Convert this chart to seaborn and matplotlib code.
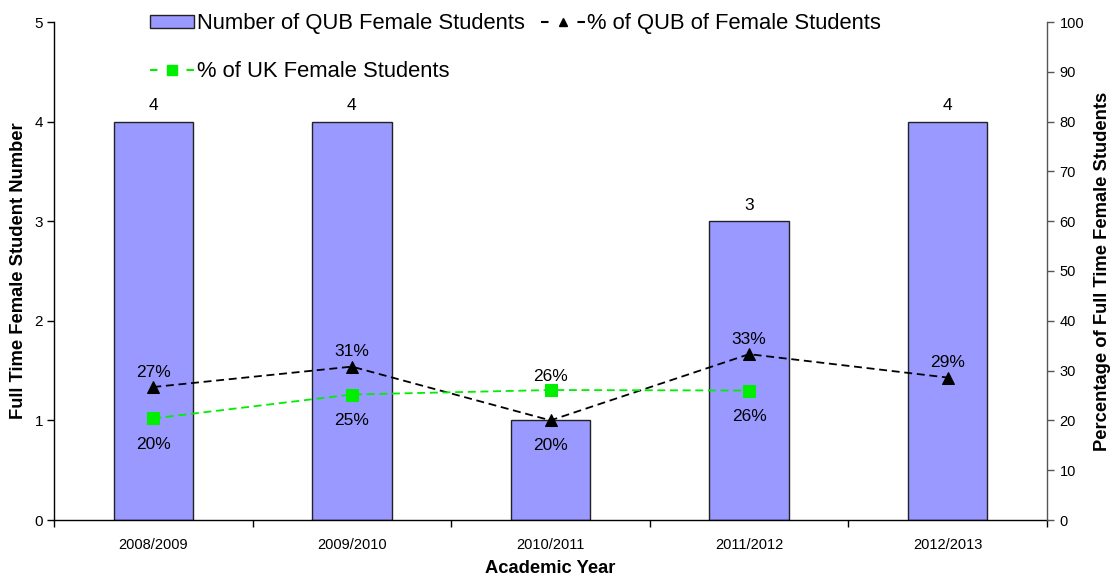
import matplotlib
matplotlib.use("Agg")
import matplotlib.pyplot as plt
import seaborn as sns
import numpy as np
from matplotlib.patches import Patch
from matplotlib.lines import Line2D

# data
years = ["2008/2009", "2009/2010", "2010/2011", "2011/2012", "2012/2013"]
female_counts = [4, 4, 1, 3, 4]
bar_labels = ["4", "4", "", "3", "4"]  # the "1" label is not shown in the original
qub_pct = [26.7, 30.8, 20.0, 33.3, 28.6]
uk_years = ["2008/2009", "2009/2010", "2010/2011", "2011/2012"]
uk_pct = [20.4, 25.2, 26.1, 26.0]
qub_label_above = [True, True, False, True, True]
uk_label_above = [False, False, True, False]


def main():
    sns.set_theme(style="white")
    plt.rcParams["font.family"] = ["Liberation Sans", "DejaVu Sans"]
    plt.rcParams.update({"text.color": "black", "axes.labelcolor": "black",
                         "xtick.labelcolor": "black", "ytick.labelcolor": "black"})

    fig = plt.figure(figsize=(11.13, 5.8), dpi=100)
    ax = fig.add_axes([54 / 1113, 60 / 580, 993 / 1113, 498 / 580])

    bar_color = "#9999FF"
    sns.barplot(x=years, y=female_counts, color=bar_color, saturation=1,
                edgecolor="#222222", linewidth=1, width=0.4, ax=ax)
    ax.bar_label(ax.containers[0], labels=bar_labels, fontsize=12.5, padding=6)

    ax.set_xlim(-0.5, len(years) - 0.5)
    ax.set_ylim(0, 5)
    ax.set_yticks(range(0, 6))
    ax.set_xticks(range(len(years)))
    ax.set_xticklabels(years, fontsize=10.5)
    ax.set_xticks(np.arange(-0.5, len(years)), minor=True)
    ax.tick_params(axis="x", which="major", length=0, pad=13)
    ax.tick_params(axis="x", which="minor", length=5, width=1, color="black",
                   direction="out", bottom=True)
    ax.tick_params(axis="y", length=5, width=1, color="black", direction="out",
                   left=True, labelsize=11, pad=3)
    for s in ["top", "right"]:
        ax.spines[s].set_visible(False)
    for s in ["left", "bottom"]:
        ax.spines[s].set_color("black")
        ax.spines[s].set_linewidth(1)

    ax.set_ylabel("Full Time Female Student Number", fontsize=13.2, fontweight="bold")
    ax.yaxis.set_label_coords(-0.027, 0.5)
    ax.set_xlabel("Academic Year", fontsize=13.2, fontweight="bold")
    ax.xaxis.set_label_coords(0.5, -0.08)

    # percentage lines on the secondary axis
    ax2 = ax.twinx()
    pos = np.arange(len(years))
    uk_pos = np.arange(len(uk_years))
    dash = (0, (4.4, 2.6))
    sns.lineplot(x=pos, y=qub_pct, ax=ax2, color="black", linestyle=dash,
                 linewidth=1.3, marker="^", markersize=8, markeredgecolor="black")
    sns.lineplot(x=uk_pos, y=uk_pct, ax=ax2, color="#00EE00", linestyle=dash,
                 linewidth=1.3, marker="s", markersize=8, markeredgecolor="#00EE00")

    for x, v, up in zip(pos, qub_pct, qub_label_above):
        ax2.annotate(f"{v:.0f}%", (x, v), xytext=(0, 15 if up else -25),
                     textcoords="offset pixels", ha="center", va="center",
                     fontsize=12.5)
    for x, v, up in zip(uk_pos, uk_pct, uk_label_above):
        ax2.annotate(f"{v:.0f}%", (x, v), xytext=(0, 14 if up else -26),
                     textcoords="offset pixels", ha="center", va="center",
                     fontsize=12.5)

    ax2.set_ylim(0, 100)
    ax2.set_yticks(range(0, 101, 10))
    ax2.set_xlim(-0.5, len(years) - 0.5)
    ax2.tick_params(axis="y", length=5, width=1, color="#555555", direction="out",
                    right=True, labelsize=10.5, pad=4)
    for s in ["top", "left", "bottom"]:
        ax2.spines[s].set_visible(False)
    ax2.spines["right"].set_color("#555555")
    ax2.spines["right"].set_linewidth(1)
    ax2.set_ylabel("Percentage of Full Time Female Students", fontsize=13.2,
                   fontweight="bold")
    ax2.yaxis.set_label_coords(1.047, 0.5)

    leg_dash = (0, (3.6, 13.9))
    handles = [
        Patch(facecolor=bar_color, edgecolor="#222222", linewidth=1),
        Line2D([], [], color="#00EE00", linestyle=leg_dash, linewidth=1.5,
               marker="s", markersize=7),
        Line2D([], [], color="black", linestyle=leg_dash, linewidth=1.5,
               marker="^", markersize=6),
    ]
    labels = ["Number of QUB Female Students", "% of UK Female Students",
              "% of QUB of Female Students"]
    fig.legend(handles, labels, loc="upper left",
               bbox_to_anchor=(150 / 1113, 1 - 13 / 580), ncol=2, frameon=False,
               fontsize=15.8, borderpad=0, labelspacing=1.22, handlelength=2.0,
               handleheight=0.55, handletextpad=0.12, columnspacing=0.75,
               borderaxespad=0)

    fig.savefig("out.png", dpi=100)


if __name__ == "__main__":
    main()
